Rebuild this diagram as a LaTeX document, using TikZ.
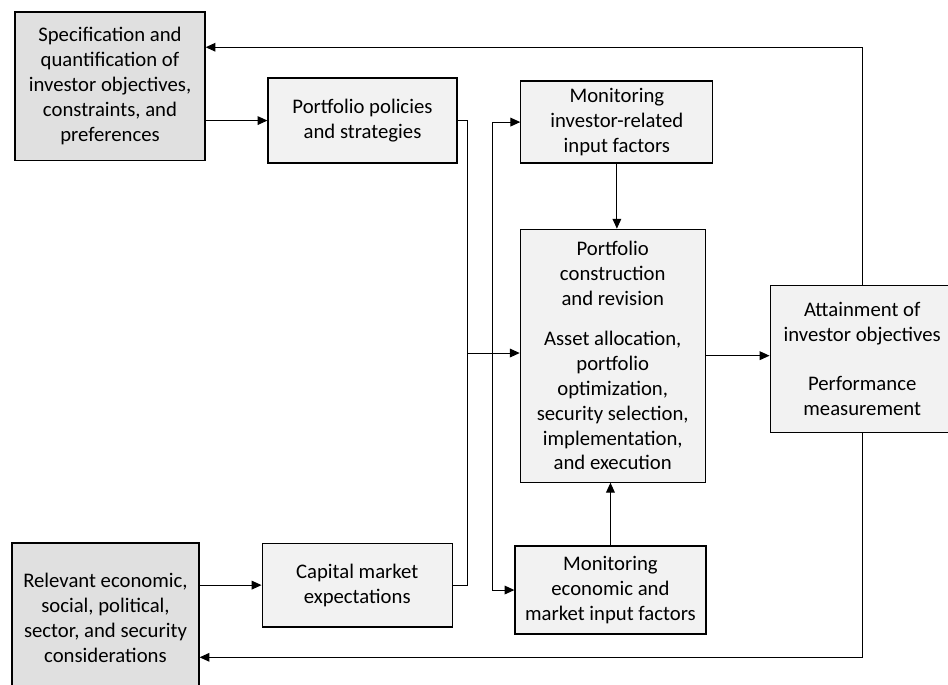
\documentclass[tikz,border=0pt]{standalone}
\usepackage{fontspec}
\setmainfont{Carlito}
\usetikzlibrary{arrows.meta}

\begin{document}
\begin{tikzpicture}[every node/.style={font=\fontsize{15.6}{18.75}\selectfont,align=center},
  box/.style={draw,line width=0.9pt,fill=black!5,inner sep=2pt},
  source/.style={box,fill=black!12},
  flow/.style={line width=0.8pt,-{Triangle[length=2.6mm,width=2.3mm]}}]
  \useasboundingbox (0,0) rectangle (25.08,18.10);

  \node[source,minimum width=5.03cm,minimum height=3.92cm] (spec) at (2.91,15.82)
    {Specification and\\quantification of\\investor objectives,\\constraints, and\\preferences};
  \node[box,minimum width=5.00cm,minimum height=2.25cm] (pol) at (9.59,14.91)
    {Portfolio policies\\and strategies};
  \node[box,minimum width=5.08cm,minimum height=2.17cm] (minv) at (16.32,14.87)
    {Monitoring\\investor-related\\input factors};
  \node[box,minimum width=4.89cm,minimum height=6.69cm] (constr) at (16.21,8.69)
    {Portfolio\\construction\\and revision\\[4mm]Asset allocation,\\portfolio\\optimization,\\security selection,\\implementation,\\and execution};
  \node[box,minimum width=4.87cm,minimum height=3.89cm] (att) at (22.81,8.61)
    {Attainment of\\investor objectives\\[6.5mm]Performance\\measurement};
  \node[box,minimum width=5.05cm,minimum height=2.33cm] (mecon) at (16.15,2.49)
    {Monitoring\\economic and\\market input factors};
  \node[box,minimum width=5.03cm,minimum height=2.22cm] (cap) at (9.45,2.62)
    {Capital market\\expectations};
  \node[source,minimum width=4.95cm,minimum height=3.97cm] (rel) at (2.79,1.75)
    {Relevant economic,\\social, political,\\sector, and security\\considerations};

  \coordinate (jn) at (12.38,8.76);
  \coordinate (br) at (13.04,8.76);
  \coordinate (fbtop) at (0,16.85);
  \coordinate (fbbot) at (0,0.71);

  \draw[flow] (pol.west -| spec.east) -- (pol.west);
  \draw[flow] (rel.east |- cap.west) -- (cap.west);
  \draw[line width=0.8pt] (pol.east) -| (jn);
  \draw[line width=0.8pt] (cap.east) -| (jn);
  \draw[flow] (jn) -- (jn -| constr.west);
  \draw[flow] (br) |- (minv.west);
  \draw[flow] (br) |- (mecon.west);
  \draw[flow] (minv.south) -- (minv.south |- constr.north);
  \draw[flow] (mecon.north) -- (mecon.north |- constr.south);
  \draw[flow] (constr.east) -- (constr.east -| att.west);
  \draw[flow] (att.north) |- (spec.east |- fbtop);
  \draw[flow] (att.south) |- (rel.east |- fbbot);
\end{tikzpicture}
\end{document}
